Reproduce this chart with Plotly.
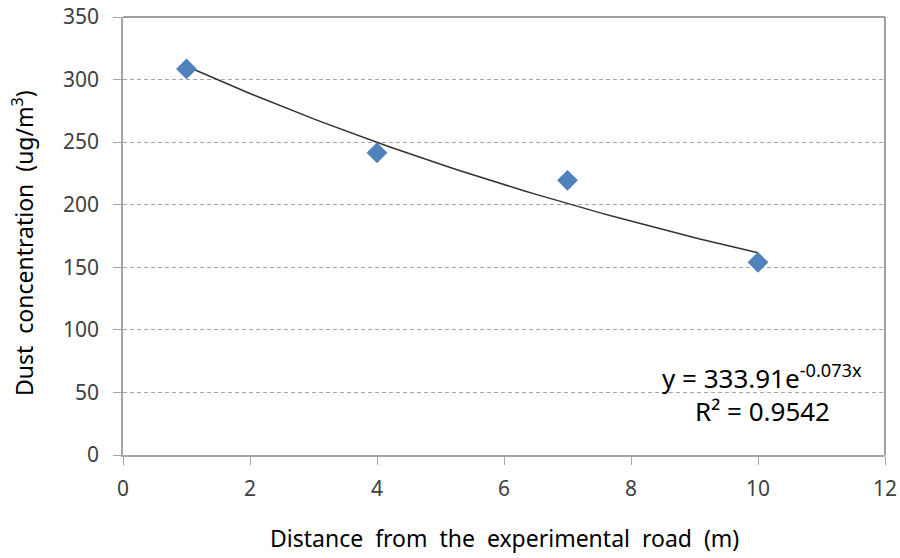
import numpy as np
import plotly.graph_objects as go

# Data
distance_m = [1, 4, 7, 10]
dust_ugm3 = [308.5, 241.5, 219.5, 154]

# Exponential trendline (least squares on log y, as Excel does)
b, ln_a = np.polyfit(distance_m, np.log(dust_ugm3), 1)
a = np.exp(ln_a)
trend_x = np.linspace(min(distance_m), max(distance_m), 60)
trend_y = a * np.exp(b * trend_x)

x_ticks = [0, 2, 4, 6, 8, 10, 12]
y_ticks = [0, 50, 100, 150, 200, 250, 300, 350]

eq_text = "y = 333.91e<sup>-0.073x</sup>"
r2_text = "R² = 0.9542"

FONT = "Noto Sans"
L, R, T, B = 123, 15, 17, 103
PW, PH = 900 - L - R, 558 - T - B

fig = go.Figure()
fig.add_trace(go.Scatter(
    x=trend_x, y=trend_y, mode="lines",
    line=dict(color="#333333", width=1.5), hoverinfo="skip", showlegend=False))
fig.add_trace(go.Scatter(
    x=distance_m, y=dust_ugm3, mode="markers",
    marker=dict(symbol="diamond", size=16, color="#4F81BD"),
    showlegend=False))

fig.update_layout(
    width=900, height=558,
    margin=dict(l=L, r=R, t=T, b=B),
    paper_bgcolor="white", plot_bgcolor="white",
    font=dict(family=FONT, color="#404040", size=21),
    xaxis=dict(range=[0, 12], tickvals=x_ticks, showgrid=False, zeroline=False,
               automargin=False, ticklabelstandoff=6,
               showline=True, linecolor="#A6A6A6", linewidth=1.5,
               ticks="outside", ticklen=8, tickcolor="#A6A6A6",
               tickfont=dict(size=21, color="#404040")),
    yaxis=dict(range=[0, 350], tickvals=y_ticks, showgrid=True,
               automargin=False, ticklabelstandoff=10,
               gridcolor="#A6A6A6", griddash="4px,3px", gridwidth=1,
               zeroline=False, showline=True, linecolor="#A6A6A6", linewidth=1.5,
               ticks="outside", ticklen=8, tickcolor="#A6A6A6",
               tickfont=dict(size=21, color="#404040")),
    shapes=[
        dict(type="line", xref="paper", yref="paper", x0=0, x1=1, y0=1, y1=1,
             line=dict(color="#7F7F7F", width=1.5)),
        dict(type="line", xref="paper", yref="paper", x0=1, x1=1, y0=0, y1=1,
             line=dict(color="#7F7F7F", width=1.5)),
    ],
    annotations=[
        dict(text="Distance  from  the  experimental  road  (m)", xref="paper", yref="paper",
             x=(504 - L) / PW, y=-(538 - (558 - B)) / PH, xanchor="center", yanchor="middle",
             showarrow=False, font=dict(size=23, color="#000000")),
        dict(text="Dust  concentration  (ug/m<sup>3</sup>)", xref="paper", yref="paper",
             x=-(L - 23) / PW, y=((558 - B) - 243) / PH, xanchor="center", yanchor="middle",
             textangle=-90, showarrow=False, font=dict(size=23, color="#000000")),
        dict(text=eq_text, xref="paper", yref="paper",
             x=(762 - L) / PW, y=((558 - B) - 377) / PH, xanchor="center", yanchor="middle",
             showarrow=False, font=dict(size=26, color="#000000")),
        dict(text=r2_text, xref="paper", yref="paper",
             x=(762 - L) / PW, y=((558 - B) - 411) / PH, xanchor="center", yanchor="middle",
             showarrow=False, font=dict(size=26, color="#000000")),
    ],
)

fig.write_html("out.html")
